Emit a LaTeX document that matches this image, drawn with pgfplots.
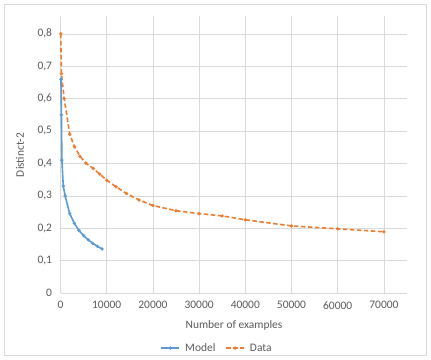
\documentclass[border=0pt]{standalone}
\usepackage{pgfplots}
\pgfplotsset{compat=1.18}
\usepackage{fontspec}
\setmainfont{Carlito}
\definecolor{mblue}{HTML}{5B9BD5}
\definecolor{morange}{HTML}{ED7D31}
\definecolor{tgray}{HTML}{595959}
\definecolor{ggray}{HTML}{D9D9D9}
\begin{document}
\begin{tikzpicture}[x=1bp,y=1bp]
\path[use as bounding box] (0,0) rectangle (431,360);
\draw[ggray, line width=0.75bp] (4.5,4.5) rectangle (426.5,355.5);
\begin{axis}[
  at={(60.5bp,67bp)}, anchor=south west,
  scale only axis, width=346.5bp, height=277bp,
  xmin=0, xmax=75000, ymin=0, ymax=0.855,
  xtick={0,10000,...,70000},
  ytick={0,0.1,...,0.8},
  scaled x ticks=false,
  xticklabel style={/pgf/number format/1000 sep={}},
  yticklabel style={/pgf/number format/.cd, use comma, fixed, precision=1},
  /pgf/number format/assume math mode=true,
  tick label style={font=\fontsize{11.5}{13}\selectfont, text=tgray},
  major tick length=0pt,
  grid=major, major grid style={ggray, line width=0.6bp},
  axis line style={draw=none},
  axis x line*=bottom,
  x axis line style={draw=ggray, line width=0.75bp},
  axis y line*=left,
  xticklabel shift=5bp, yticklabel shift=5bp,
  clip=false,
  legend columns=2,
  legend style={at={(axis description cs:0.452,-0.199)}, anchor=center, draw=none, fill=none,
    font=\fontsize{11.5}{13}\selectfont, text=tgray, column sep=3bp,
    /tikz/every even column/.append style={column sep=8bp}},
  legend image code/.code={\draw[#1] (0bp,0bp) -- (18bp,0bp); \path[#1, solid] plot coordinates {(9bp,0bp)};},
]
\addplot[mblue, line width=1.6bp, mark=*, mark size=0.7bp, mark options={solid}] coordinates {
(100,0.66) (200,0.55) (300,0.41) (600,0.33) (1000,0.30) (2000,0.245) (3000,0.215)
(4000,0.193) (5000,0.177) (6000,0.164) (7000,0.153) (8000,0.144) (9000,0.136)};
\addlegendentry{Model}
\addplot[morange, line width=1.6bp, dash pattern=on 4.5bp off 2.5bp, mark=*, mark size=0.7bp, mark options={solid}] coordinates {
(50,0.80) (200,0.677) (800,0.60) (2000,0.49) (3000,0.452) (4200,0.422) (5500,0.401) (7100,0.384)
(8500,0.367) (10000,0.348) (12000,0.328) (14300,0.307) (17000,0.287) (20000,0.27)
(25000,0.254) (30000,0.245) (35000,0.238) (40000,0.226) (50000,0.207) (60000,0.198) (70000,0.189)};
\addlegendentry{Data}
\end{axis}
\node[rotate=90, text=tgray, font=\fontsize{11.5}{13}\selectfont] at (20,205) {Distinct-2};
\node[text=tgray, font=\fontsize{11.5}{13}\selectfont] at (234,35) {Number of examples};
\end{tikzpicture}
\end{document}
